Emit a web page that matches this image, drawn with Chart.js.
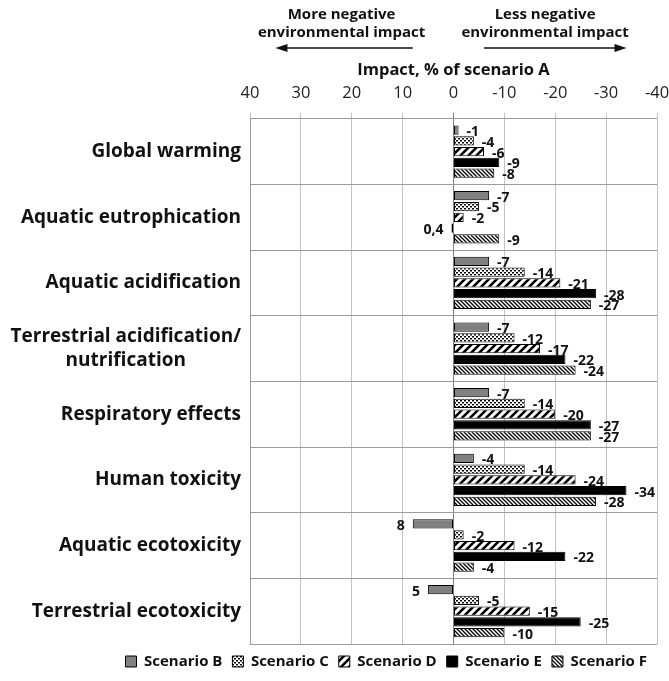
<!DOCTYPE html>
<html>
<head>
<meta charset="utf-8">
<script src="https://cdn.jsdelivr.net/npm/chart.js@4.4.1/dist/chart.umd.min.js"></script>
<style>
  html, body { margin: 0; padding: 0; background: #fff; }
  #wrap { width: 669px; height: 681px; }
</style>
</head>
<body>
<div id="wrap"><canvas id="impact_chart"></canvas></div>
<script>
// categories and values (% change vs scenario A)
const categories = [
    'Global warming',
    'Aquatic eutrophication',
    'Aquatic acidification',
    ['Terrestrial acidification/', 'nutrification'],
    'Respiratory effects',
    'Human toxicity',
    'Aquatic ecotoxicity',
    'Terrestrial ecotoxicity'
];
const scenarioB = [-1, -7, -7, -7, -7, -4, 8, 5];
const scenarioC = [-4, -5, -14, -12, -14, -14, -2, -5];
const scenarioD = [-6, -2, -21, -17, -20, -24, -12, -15];
const scenarioE = [-9, 0.4, -28, -22, -27, -34, -22, -25];
const scenarioF = [-8, -9, -27, -24, -27, -28, -4, -10];
const xTicks = [40, 30, 20, 10, 0, -10, -20, -30, -40];

const FONT = "'Open Sans', sans-serif";

// hatch fills like the excel patterns
function makePattern(kind) {
    let c = document.createElement('canvas');
    let g = c.getContext('2d');
    if (kind === 'dots') {
        c.width = 4; c.height = 4;
        g.fillStyle = '#fff'; g.fillRect(0, 0, 4, 4);
        g.fillStyle = '#000';
        g.fillRect(0, 0, 2, 1.5);
        g.fillRect(2, 2, 2, 1.5);
    } else if (kind === 'wide') {
        c.width = 8; c.height = 8;
        g.fillStyle = '#fff'; g.fillRect(0, 0, 8, 8);
        g.strokeStyle = '#000'; g.lineWidth = 2.6;
        g.beginPath();
        g.moveTo(-2, 10); g.lineTo(10, -2);
        g.moveTo(-6, 6); g.lineTo(6, -6);
        g.moveTo(2, 14); g.lineTo(14, 2);
        g.stroke();
    } else {
        c.width = 4; c.height = 4;
        g.fillStyle = '#fff'; g.fillRect(0, 0, 4, 4);
        g.strokeStyle = '#000'; g.lineWidth = 1.3;
        g.beginPath();
        g.moveTo(-1, -1); g.lineTo(5, 5);
        g.moveTo(-3, 1); g.lineTo(3, 7);
        g.moveTo(1, -3); g.lineTo(7, 3);
        g.stroke();
    }
    return g.createPattern(c, 'repeat');
}

function ds(label, data, fill) {
    return {
        label: label,
        data: data,
        backgroundColor: fill,
        borderColor: '#000',
        borderWidth: 1,
        borderSkipped: false,
        categoryPercentage: 0.82,
        barPercentage: 0.86
    };
}

// value labels at the end of each bar
const barLabels = {
    id: 'barLabels',
    afterDatasetsDraw(chart) {
        let ctx = chart.ctx;
        ctx.save();
        ctx.font = 'bold 14px ' + FONT;
        ctx.fillStyle = '#111';
        ctx.textBaseline = 'middle';
        chart.data.datasets.forEach((d, i) => {
            let meta = chart.getDatasetMeta(i);
            meta.data.forEach((el, j) => {
                let v = d.data[j];
                let txt = String(v).replace('.', ',');
                if (v < 0) {
                    ctx.textAlign = 'left';
                    ctx.fillText(txt, el.x + 8, el.y + 2);
                } else {
                    ctx.textAlign = 'right';
                    ctx.fillText(txt, el.x - 8, el.y + 2);
                }
            });
        });
        ctx.restore();
    }
};

// category names, drawn by hand so the two-line one is centred like excel
const catLabels = {
    id: 'catLabels',
    afterDraw(chart) {
        let ctx = chart.ctx;
        let ys = chart.scales.y;
        let right = chart.chartArea.left - 9;
        ctx.save();
        ctx.font = 'bold 19px ' + FONT;
        ctx.fillStyle = '#111';
        ctx.textAlign = 'center';
        ctx.textBaseline = 'middle';
        categories.forEach((lab, i) => {
            let lines = Array.isArray(lab) ? lab : [lab];
            let w = Math.max(...lines.map(l => ctx.measureText(l).width));
            let cx = right - w / 2;
            let y0 = ys.getPixelForValue(i) - (lines.length - 1) * 12;
            lines.forEach((l, k) => ctx.fillText(l, cx, y0 + k * 24));
        });
        ctx.restore();
    }
};

// the two captions with arrows above the axis, plus the axis title
const topNotes = {
    id: 'topNotes',
    afterDraw(chart) {
        let ctx = chart.ctx;
        let xs = chart.scales.x;
        ctx.save();
        ctx.fillStyle = '#111';
        ctx.textAlign = 'center';
        ctx.textBaseline = 'middle';
        ctx.font = 'bold 16.5px ' + FONT;
        ctx.fillText('Impact, % of scenario A', xs.getPixelForValue(0), 70);

        ctx.font = 'bold 15px ' + FONT;
        let lx = xs.getPixelForValue(22), rx = xs.getPixelForValue(-18);
        ctx.fillText('More negative', lx, 15);
        ctx.fillText('environmental impact', lx, 33);
        ctx.fillText('Less negative', rx, 15);
        ctx.fillText('environmental impact', rx, 33);

        function arrow(x1, x2, y) {
            let dir = x2 > x1 ? 1 : -1;
            ctx.strokeStyle = '#111';
            ctx.lineWidth = 1.5;
            ctx.beginPath();
            ctx.moveTo(x1, y); ctx.lineTo(x2 - dir * 8, y);
            ctx.stroke();
            ctx.beginPath();
            ctx.moveTo(x2, y);
            ctx.lineTo(x2 - dir * 12, y - 4);
            ctx.lineTo(x2 - dir * 12, y + 4);
            ctx.closePath();
            ctx.fill();
        }
        arrow(xs.getPixelForValue(8), xs.getPixelForValue(35), 48);
        arrow(xs.getPixelForValue(-6), xs.getPixelForValue(-34), 48);
        ctx.restore();
    }
};

const ctx = document.getElementById('impact_chart').getContext('2d');
const chart = new Chart(ctx, {
    type: 'bar',
    data: {
        labels: categories,
        datasets: [
            ds('Scenario B', scenarioB, '#808080'),
            ds('Scenario C', scenarioC, makePattern('dots')),
            ds('Scenario D', scenarioD, makePattern('wide')),
            ds('Scenario E', scenarioE, '#000'),
            ds('Scenario F', scenarioF, makePattern('fine'))
        ]
    },
    options: {
        indexAxis: 'y',
        responsive: true,
        maintainAspectRatio: false,
        animation: false,
        layout: { padding: { top: 73, right: 12, bottom: 2, left: 0 } },
        scales: {
            x: {
                position: 'top',
                reverse: true,
                min: -40,
                max: 40,
                afterBuildTicks: (s) => { s.ticks = xTicks.map(v => ({ value: v })); },
                afterFit: (s) => { s.paddingLeft = 0; s.paddingRight = 0; },
                ticks: {
                    color: '#222',
                    font: { size: 16.5, family: FONT },
                    padding: 10
                },
                grid: {
                    color: (c) => c.tick && c.tick.value === 0 ? '#808080' : '#c4c4c4',
                    tickLength: 6
                },
                border: { display: false }
            },
            y: {
                afterFit: (s) => { s.width = 250; },
                ticks: { display: false },
                grid: { offset: true, color: '#9a9a9a', drawTicks: false },
                border: { color: '#9a9a9a' }
            }
        },
        plugins: {
            legend: {
                position: 'bottom',
                align: 'end',
                labels: {
                    boxWidth: 11,
                    boxHeight: 11,
                    color: '#111',
                    font: { size: 15, weight: 'bold', family: FONT },
                    padding: 10
                }
            },
            tooltip: { enabled: false }
        }
    },
    plugins: [barLabels, catLabels, topNotes]
});
</script>
</body>
</html>
